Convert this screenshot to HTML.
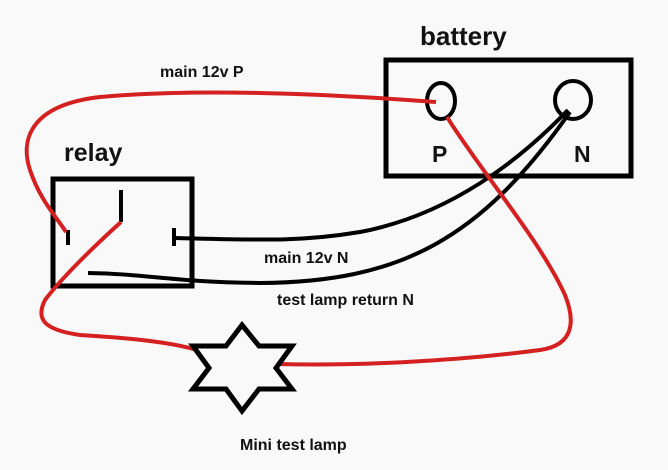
<!DOCTYPE html>
<html><head><meta charset="utf-8"><style>
html,body{margin:0;padding:0;background:#f9f9f9;}
svg{display:block}
text{font-family:"Liberation Sans",sans-serif;font-weight:bold;fill:#111}
</style></head><body>
<svg width="668" height="470" viewBox="0 0 668 470" xmlns="http://www.w3.org/2000/svg">
<rect width="668" height="470" fill="#f9f9f9"/>
<!-- battery -->
<rect x="386" y="60" width="245" height="116" fill="none" stroke="#000" stroke-width="5"/>
<ellipse cx="441" cy="101" rx="14" ry="18" fill="none" stroke="#000" stroke-width="4"/>
<ellipse cx="573" cy="100" rx="18" ry="19" fill="none" stroke="#000" stroke-width="4"/>
<text x="420" y="45" font-size="26">battery</text>
<text x="432" y="162" font-size="23">P</text>
<text x="574" y="162" font-size="23">N</text>
<!-- relay -->
<rect x="53" y="179" width="139" height="107" fill="none" stroke="#000" stroke-width="5"/>
<text x="64" y="161" font-size="25">relay</text>
<line x1="68" y1="230" x2="68" y2="245" stroke="#000" stroke-width="4"/>
<line x1="121" y1="190" x2="121" y2="222" stroke="#000" stroke-width="4"/>
<line x1="174" y1="228" x2="174" y2="246" stroke="#000" stroke-width="4"/>
<!-- black wires -->
<path d="M175 238 C260 240 300 242 360 232 C450 215 520 160 568 110" fill="none" stroke="#000" stroke-width="4"/>
<path d="M88 273 C150 274 170 282 260 283 C400 282 480 240 570 112" fill="none" stroke="#000" stroke-width="4"/>
<!-- red wires -->
<path d="M436 102 C330 94 200 88 100 97 C30 105 20 140 30 170 C40 200 55 215 66 232" fill="none" stroke="#d42020" stroke-width="4"/>
<path d="M121 222 C90 250 60 280 45 300 C35 320 45 330 80 335 C130 338 170 342 197 350" fill="none" stroke="#d42020" stroke-width="4"/>
<path d="M277 364 C350 366 450 362 540 350 C575 345 575 320 565 295 C540 240 480 170 447 117" fill="none" stroke="#d42020" stroke-width="4"/>
<!-- star lamp -->
<polygon points="242,325 259,346 292,346 276,368 292,389 259,389 242,411 226,389 193,389 209,368 193,346 226,346" fill="none" stroke="#000" stroke-width="5" stroke-linejoin="miter"/>
<!-- labels -->
<text x="160" y="77" font-size="16">main 12v P</text>
<text x="264" y="263" font-size="16">main 12v N</text>
<text x="277" y="305" font-size="16">test lamp return N</text>
<text x="240" y="450" font-size="16">Mini test lamp</text>
</svg>
</body></html>
